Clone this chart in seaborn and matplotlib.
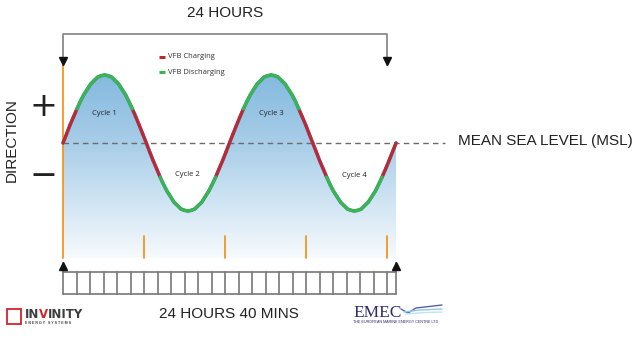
import numpy as np
import pandas as pd
import matplotlib
matplotlib.use("Agg")
import matplotlib.pyplot as plt
import seaborn as sns
from matplotlib.colors import LinearSegmentedColormap
from matplotlib.patches import Rectangle

# -----------------------------
# 1. Data (tide level vs hours)
# -----------------------------
hours = [0.00, 0.26, 0.51, 0.77, 1.03, 1.28, 1.54, 1.80, 2.06, 2.31, 2.57, 2.83,
         3.08, 3.34, 3.60, 3.85, 4.11, 4.37, 4.63, 4.88, 5.14, 5.40, 5.65, 5.91,
         6.17, 6.42, 6.68, 6.94, 7.19, 7.45, 7.71, 7.97, 8.22, 8.48, 8.74, 8.99,
         9.25, 9.51, 9.76, 10.02, 10.28, 10.53, 10.79, 11.05, 11.31, 11.56, 11.82, 12.08,
         12.33, 12.59, 12.85, 13.10, 13.36, 13.62, 13.88, 14.13, 14.39, 14.65, 14.90, 15.16,
         15.42, 15.67, 15.93, 16.19, 16.44, 16.70, 16.96, 17.22, 17.47, 17.73, 17.99, 18.24,
         18.50, 18.76, 19.01, 19.27, 19.53, 19.78, 20.04, 20.30, 20.56, 20.81, 21.07, 21.33,
         21.58, 21.84, 22.10, 22.35, 22.61, 22.87, 23.13, 23.38, 23.64, 23.90, 24.15, 24.41,
         24.67]
level = [0.00, 0.13, 0.26, 0.38, 0.50, 0.61, 0.71, 0.79, 0.87, 0.92, 0.97, 0.99,
         1.00, 0.99, 0.97, 0.92, 0.87, 0.79, 0.71, 0.61, 0.50, 0.38, 0.26, 0.13,
         0.00, -0.13, -0.26, -0.38, -0.50, -0.61, -0.71, -0.79, -0.87, -0.92, -0.97, -0.99,
         -1.00, -0.99, -0.97, -0.92, -0.87, -0.79, -0.71, -0.61, -0.50, -0.38, -0.26, -0.13,
         0.00, 0.13, 0.26, 0.38, 0.50, 0.61, 0.71, 0.79, 0.87, 0.92, 0.97, 0.99,
         1.00, 0.99, 0.97, 0.92, 0.87, 0.79, 0.71, 0.61, 0.50, 0.38, 0.26, 0.13,
         0.00, -0.13, -0.26, -0.38, -0.50, -0.61, -0.71, -0.79, -0.87, -0.92, -0.97, -0.99,
         -1.00, -0.99, -0.97, -0.92, -0.87, -0.79, -0.71, -0.61, -0.50, -0.38, -0.26, -0.13,
         0.00]

cycle_names = ["Cycle 1", "Cycle 2", "Cycle 3", "Cycle 4"]
cycle_hours = [3.08, 9.19, 15.40, 21.60]
cycle_levels = [0.44, -0.46, 0.44, -0.48]

tick_hours = [6, 12, 18, 24]          # short orange markers
box_edges = list(range(25)) + [24.67]  # hourly cells, 24 h 40 min
span_hours = 24                        # top bracket
total_hours = 24.67                    # bottom bracket

mode_labels = ["VFB Charging", "VFB Discharging"]
mode_colors = ["#c4262e", "#3cb54a"]

# -----------------------------
# 2. Figure / pixel helpers
# -----------------------------
sns.set_theme(style="white")
plt.rcParams['font.family'] = ['Liberation Sans', 'DejaVu Sans']

W, H = 640, 356
X0, PX_H = 63, 13.5   # pixel of hour 0, pixels per hour
Y0, PX_L = 143, 68    # pixel of MSL, pixels per unit level


def dx(px):
    return (px - X0) / PX_H


def dy(py):
    return (Y0 - py) / PX_L


fig = plt.figure(figsize=(6.4, 3.56), dpi=100)
ax = fig.add_axes([0, 0, 1, 1])

fill_bottom = dy(258)

# -----------------------------
# 3. Gradient fill under the tide curve
# -----------------------------
cmap = LinearSegmentedColormap.from_list(
    "sea", [(0, "#f6fafd"), (0.37, "#c8e0f1"), (0.63, "#a8cde8"), (1, "#84badf")])
grad = np.linspace(0, 1, 256).reshape(-1, 1)
im = ax.imshow(grad, extent=[0, total_hours, fill_bottom, 1.0], origin='lower',
               cmap=cmap, aspect='auto', zorder=1)
poly = ax.fill_between(hours, level, fill_bottom, color='none', lw=0)
im.set_clip_path(poly.get_paths()[0], ax.transData)

# MSL dashed line
ax.plot([0, dx(445)], [0, 0], color="#6b6b6b", lw=1, ls=(0, (4, 3)), zorder=3)

# -----------------------------
# 4. Tide curve coloured by VFB mode
# -----------------------------
ax.plot(hours, level, color="#3a86c4", lw=2.6, zorder=3.5)
rows = []
for k in range(len(hours) - 1):
    charging = max(abs(level[k]), abs(level[k + 1])) <= 0.5
    mode = mode_labels[0] if charging else mode_labels[1]
    for j in (k, k + 1):
        rows.append({"seg": k, "hours": hours[j], "level": level[j], "mode": mode})
seg_df = pd.DataFrame(rows)
sns.lineplot(data=seg_df, x="hours", y="level", hue="mode", units="seg",
             estimator=None, sort=False, palette=dict(zip(mode_labels, mode_colors)),
             lw=2.2, legend=False, ax=ax, zorder=4, solid_capstyle='round')

# orange time markers
ax.plot([0, 0], [dy(65), fill_bottom], color="#f7941d", lw=1.3, zorder=2)
for t in tick_hours:
    ax.plot([t, t], [dy(236), fill_bottom], color="#f7941d", lw=1.3, zorder=2)

# cycle labels
for name, cx, cy in zip(cycle_names, cycle_hours, cycle_levels):
    ax.text(cx, cy, name, fontsize=5.5, color="#222222", ha='center', va='center',
            family=['Open Sans', 'DejaVu Sans'], zorder=5)

# legend
for i, (lab, col) in enumerate(zip(mode_labels, mode_colors)):
    yy = dy(57 + 15 * i)
    ax.plot([dx(159), dx(165)], [yy, yy], color=col, lw=2.2, solid_capstyle='butt')
    ax.text(dx(168), yy, lab, fontsize=5.5, color="#333333", va='center',
            family=['Open Sans', 'DejaVu Sans'])

# -----------------------------
# 5. Brackets and hour box
# -----------------------------
gray = "#8a8a8a"
ax.plot([0, 0, span_hours, span_hours], [dy(65), dy(34), dy(34), dy(65)],
        color=gray, lw=1.3, zorder=2.5)
ax.plot([0, span_hours], [dy(61), dy(61)], ls='none', marker='v', ms=6,
        color="#111111", zorder=6)
ax.text(dx(225), dy(13), "24 HOURS", fontsize=11, color="#222222", ha='center', va='center')

ax.plot([0, 0], [dy(272), dy(263)], color=gray, lw=1.3)
ax.plot([total_hours, total_hours], [dy(272), dy(263)], color=gray, lw=1.3)
ax.plot([0, total_hours], [dy(266), dy(266)], ls='none', marker='^', ms=6,
        color="#111111", zorder=6)
box_top, box_bot = dy(272), dy(294)
ax.plot([0, total_hours], [box_top, box_top], color="#777777", lw=1.2)
ax.plot([0, total_hours], [box_bot, box_bot], color="#777777", lw=1.2)
for e in box_edges:
    ax.plot([e, e], [box_top, box_bot], color="#777777", lw=1.2)
ax.text(dx(229), dy(314), "24 HOURS 40 MINS", fontsize=11, color="#222222",
        ha='center', va='center')

# -----------------------------
# 6. Axis annotations
# -----------------------------
ax.text(dx(12), dy(140), "DIRECTION", fontsize=11, rotation=90, color="#222222",
        ha='center', va='center')
ax.text(dx(43), dy(107), "+", fontsize=24, color="#222222", ha='center', va='center',
        family=['DejaVu Sans'])
ax.text(dx(43), dy(175), "\u2212", fontsize=24, color="#222222", ha='center', va='center',
        family=['DejaVu Sans'])
ax.text(dx(458), dy(141), "MEAN SEA LEVEL (MSL)", fontsize=11, color="#222222", va='center')

# -----------------------------
# 7. Logos (text based)
# -----------------------------
ax.add_patch(Rectangle((dx(7), dy(324)), dx(21) - dx(7), dy(309) - dy(324),
                       fill=False, ec="#d2232a", lw=1.3))
renderer = fig.canvas.get_renderer()
xpos = 24.5
for part, col in [("IN", "#3d3d3d"), ("V", "#d2232a"), ("INITY", "#3d3d3d")]:
    t = ax.text(dx(xpos), dy(318), part, fontsize=8.5, fontweight='bold', color=col,
                family=['DejaVu Sans'], va='baseline')
    xpos += t.get_window_extent(renderer).width
ax.text(dx(25), dy(323), "E N E R G Y   S Y S T E M S", fontsize=2.6, color="#3d3d3d",
        va='center', fontweight='bold')

ax.text(dx(353), dy(317), "EMEC", fontsize=12.5, color="#2e2a6e",
        family=['Liberation Serif'], va='baseline')
swoosh = [([401, 408, 416, 442], [309, 313, 308, 305], "#5b5fa8"),
          ([404, 420, 442], [312, 310, 309], "#8fcbe3"),
          ([406, 425, 442], [314, 312.5, 312], "#bfe2ee")]
for xs, ys, col in swoosh:
    ax.plot([dx(v) for v in xs], [dy(v) for v in ys], color=col, lw=1)
ax.text(dx(353), dy(322), "THE EUROPEAN MARINE ENERGY CENTRE LTD", fontsize=2.7,
        color="#2e2a6e", va='center')

ax.set_xlim(dx(0), dx(W))
ax.set_ylim(dy(H), dy(0))
ax.axis('off')

fig.savefig("out.png", dpi=100)
